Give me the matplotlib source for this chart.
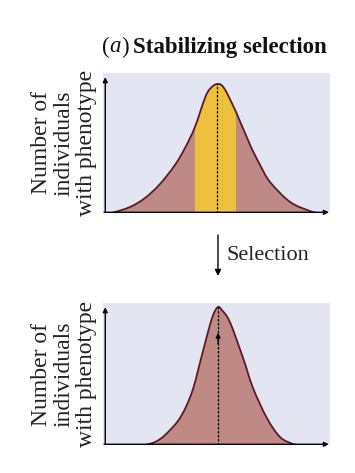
import matplotlib
matplotlib.use("Agg")
import matplotlib.pyplot as plt
from matplotlib.path import Path
from matplotlib.patches import PathPatch, FancyArrowPatch

# ---------------- data (phenotype scale 0-100, frequency 0-100) ----------------
top_x = [4.0, 11.9, 18.5, 25.1, 31.7, 36.1, 40.5, 44.9, 47.1, 50.2, 53.3, 58.6,
         64.8, 69.2, 73.6, 82.4, 91.2, 94.7]
top_y = [0.0, 4.3, 10.7, 20.7, 34.3, 46.4, 61.4, 82.1, 88.6, 92.1, 89.3, 72.1,
         48.6, 34.3, 22.1, 7.9, 1.4, 0.0]
band_lo, band_hi = 40.5, 58.6
top_mean = 50.2

bot_x = [18.5, 22.9, 27.3, 33.9, 39.2, 43.6, 47.1, 48.9, 50.7, 52.4, 55.9, 61.7,
         66.1, 72.2, 78.0, 83.7, 85.9]
bot_y = [0.0, 2.1, 7.0, 19.0, 37.3, 63.4, 84.5, 93.0, 97.2, 95.0, 86.6, 61.3,
         40.1, 19.0, 5.6, 0.7, 0.0]
bot_mean = 50.7
bot_arrow_tip = 79.0

title_a = "a"
title_main = "Stabilizing selection"
ylabel = "Number of\nindividuals\nwith phenotype"
between_label = "Selection"

# ---------------- style ----------------
BG = "#E3E6F2"
FILL = "#BF8A85"
EDGE = "#5A1C28"
YELLOW = "#EFC03E"
SERIF = "Liberation Serif"

W, H = 355, 473
fig = plt.figure(figsize=(W / 100, H / 100), dpi=100)
fig.patch.set_facecolor("white")


def fx(px):
    return px / W


def fy(py):
    return 1 - py / H


def smooth_path(xs, ys, closed):
    """Catmull-Rom curve through the read points, drawn as Bezier segments."""
    pts = list(zip(xs, ys))
    n = len(pts)
    verts = [pts[0]]
    codes = [Path.MOVETO]
    for i in range(n - 1):
        p0 = pts[max(i - 1, 0)]
        p1 = pts[i]
        p2 = pts[i + 1]
        p3 = pts[min(i + 2, n - 1)]
        c1 = (p1[0] + (p2[0] - p0[0]) / 6, p1[1] + (p2[1] - p0[1]) / 6)
        c2 = (p2[0] - (p3[0] - p1[0]) / 6, p2[1] - (p3[1] - p1[1]) / 6)
        c1 = (c1[0], max(c1[1], 0))
        c2 = (c2[0], max(c2[1], 0))
        verts += [c1, c2, p2]
        codes += [Path.CURVE4] * 3
    if closed:
        verts += [(xs[-1], 0), (xs[0], 0), (xs[0], 0)]
        codes += [Path.LINETO, Path.LINETO, Path.CLOSEPOLY]
    return Path(verts, codes)


def make_axes(top_px, bottom_px):
    ax = fig.add_axes([fx(103), fy(bottom_px), (330 - 103) / W, (bottom_px - top_px) / H])
    ax.set_xlim(0, 100)
    ax.set_ylim(0, 100)
    ax.set_facecolor(BG)
    for s in ax.spines.values():
        s.set_visible(False)
    ax.set_xticks([])
    ax.set_yticks([])
    arrow = dict(arrowstyle="-|>", color="black", lw=1.0, mutation_scale=7,
                 shrinkA=0, shrinkB=0)
    ax.annotate("", xy=(1.0, 97), xytext=(1.0, 0.5), arrowprops=arrow,
                annotation_clip=False, zorder=6)
    ax.annotate("", xy=(99.5, 0.5), xytext=(0.5, 0.5), arrowprops=arrow,
                annotation_clip=False, zorder=6)
    return ax


def draw_curve(ax, xs, ys):
    body = PathPatch(smooth_path(xs, ys, True), facecolor=FILL, edgecolor="none",
                     zorder=2)
    ax.add_patch(body)
    ax.add_patch(PathPatch(smooth_path(xs, ys, False), facecolor="none",
                           edgecolor=EDGE, lw=1.3, zorder=4))
    return body


# ---- top panel ----
ax1 = make_axes(73, 213)
body1 = draw_curve(ax1, top_x, top_y)
band = ax1.axvspan(band_lo, band_hi, color=YELLOW, lw=0, zorder=3)
band.set_clip_path(body1)
ax1.plot([top_mean, top_mean], [0, max(top_y)], color="black", lw=0.9,
         ls=(0, (2, 1.2)), zorder=5)

# ---- bottom panel ----
ax2 = make_axes(303, 445)
draw_curve(ax2, bot_x, bot_y)
ax2.plot([bot_mean, bot_mean], [0, max(bot_y)], color="black", lw=0.9,
         ls=(0, (2, 1.2)), zorder=5)
ax2.annotate("", xy=(bot_mean, bot_arrow_tip), xytext=(bot_mean, bot_arrow_tip - 8),
             arrowprops=dict(arrowstyle="-|>", color="black", lw=0.9,
                             mutation_scale=7, shrinkA=0, shrinkB=0), zorder=6)

# ---- y labels ----
for cy in (143, 374):
    fig.text(fx(64), fy(cy), ylabel, rotation=90, ha="center", va="center",
             multialignment="center", fontsize=17, family=SERIF,
             linespacing=1.1, color="#222222")

# ---- title ----
renderer = fig.canvas.get_renderer()
TS = 16.5
t_open = fig.text(fx(102), fy(47), "(", ha="left", va="center", fontsize=TS,
                  family=SERIF, color="#111111")
x = t_open.get_window_extent(renderer).x1
t_a = fig.text(x / W, fy(47), title_a, ha="left", va="center", fontsize=TS,
               family=SERIF, style="italic", color="#111111")
x = t_a.get_window_extent(renderer).x1
t_close = fig.text(x / W, fy(47), ")", ha="left", va="center", fontsize=TS,
                   family=SERIF, color="#111111")
x = t_close.get_window_extent(renderer).x1 + 4
fig.text(x / W, fy(47), title_main, ha="left", va="center", fontsize=TS,
         family=SERIF, weight="bold", color="#111111")

# ---- selection arrow ----
fig.patches.append(FancyArrowPatch(
    (fx(218), fy(235)), (fx(218), fy(276)), transform=fig.transFigure,
    arrowstyle="-|>", mutation_scale=9, color="black", lw=1.0,
    shrinkA=0, shrinkB=0))
fig.text(fx(227), fy(256), between_label, ha="left", va="center", fontsize=16,
         family=SERIF, color="#222222")

fig.savefig("out.png", dpi=100, facecolor="white")
